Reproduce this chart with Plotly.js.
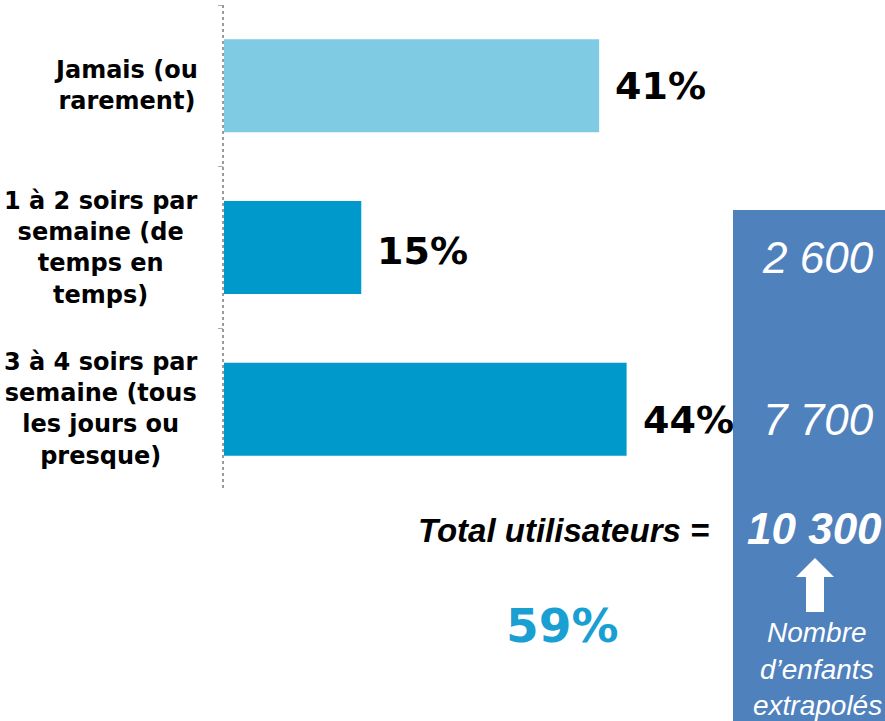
<!DOCTYPE html>
<html>
<head>
<meta charset="utf-8">
<script src="https://cdn.plot.ly/plotly-3.0.1.min.js"></script>
<style>html,body{margin:0;padding:0;background:#fff;}#chart{width:885px;height:721px;}</style>
</head>
<body>
<div id="chart"></div>
<script>
// ---- data ----
const categories = ["Jamais (ou rarement)", "1 à 2 soirs par semaine (de temps en temps)", "3 à 4 soirs par semaine (tous les jours ou presque)"];
const tickLabels = ["Jamais (ou<br>rarement)", "1 à 2 soirs par<br>semaine (de<br>temps en<br>temps)", "3 à 4 soirs par<br>semaine (tous<br>les jours ou<br>presque)"];
const values = [41, 15, 44];
const valueLabels = ["41%", "15%", "44%"];
const extrapolated = [null, 2600, 7700];
const totalUsers = 10300;
const totalPct = 59;
const totalLabel = "Total utilisateurs =";
const noteLines = ["Nombre", "d’enfants", "extrapolés"];

// ---- helpers (pixel -> paper) ----
const W = 885, H = 721;
const px = x => x / W;
const py = y => 1 - y / H;
const fmt = n => String(n).replace(/\B(?=(\d{3})+(?!\d))/g, " ");

const barColors = ["#7fcbe3", "#0099cc", "#0099cc"];

const trace = {
  type: "bar",
  orientation: "h",
  x: values,
  y: categories,
  marker: {color: barColors, line: {width: 0}},
  width: 0.575,
  hoverinfo: "skip"
};

const annotations = [];
const labelYShift = [0, -3, -11];
categories.forEach((c, i) => {
  annotations.push({
    xref: "paper", yref: "y", x: px(200), y: c,
    xanchor: "right", yanchor: "middle", align: "center",
    text: tickLabels[i], showarrow: false,
    font: {family: "DejaVu Sans", size: 24, color: "#000", weight: "bold"}
  });
  annotations.push({
    xref: "x", yref: "y", x: values[i], y: c,
    xanchor: "left", yanchor: "middle", xshift: 14, yshift: labelYShift[i],
    text: valueLabels[i], showarrow: false,
    font: {family: "DejaVu Sans", size: 38, color: "#000", weight: "bold"}
  });
  if (extrapolated[i] !== null) {
    annotations.push({
      xref: "paper", yref: "y", x: px(818), y: c,
      xanchor: "center", yanchor: "middle", yshift: -10,
      text: fmt(extrapolated[i]), showarrow: false,
      font: {family: "Liberation Sans", size: 44, color: "#fff", style: "italic"}
    });
  }
});

annotations.push({
  xref: "paper", yref: "paper", x: px(711), y: py(530),
  xanchor: "right", yanchor: "middle", text: totalLabel, showarrow: false,
  font: {family: "Liberation Sans", size: 33, color: "#000", weight: "bold", style: "italic"}
});
annotations.push({
  xref: "paper", yref: "paper", x: px(745), y: py(528),
  xanchor: "left", yanchor: "middle", text: fmt(totalUsers), showarrow: false,
  font: {family: "Liberation Sans", size: 44, color: "#fff", weight: "bold", style: "italic"}
});
annotations.push({
  xref: "paper", yref: "paper", x: px(562), y: py(625),
  xanchor: "center", yanchor: "middle", text: totalPct + "%", showarrow: false,
  font: {family: "DejaVu Sans", size: 47, color: "#1a9fd3", weight: "bold"}
});
const noteY = [632, 669, 705];
noteLines.forEach((t, i) => {
  annotations.push({
    xref: "paper", yref: "paper", x: px(817), y: py(noteY[i]),
    xanchor: "center", yanchor: "middle", text: t, showarrow: false,
    font: {family: "Liberation Sans", size: 28, color: "#fff", style: "italic"}
  });
});

const arrowPts = [[815,558],[834,577],[824,577],[824,612],[806,612],[806,577],[796,577]];
const arrowPath = "M" + arrowPts.map(p => px(p[0]) + "," + py(p[1])).join(" L") + " Z";

const shapes = [
  {type: "rect", xref: "paper", yref: "paper", x0: px(733), x1: 1.01, y0: py(210), y1: -0.01,
   fillcolor: "#4f81bd", line: {width: 0}, layer: "below"},
  {type: "line", xref: "paper", yref: "paper", x0: px(223), x1: px(223), y0: py(5), y1: py(491),
   line: {color: "#9a9a9a", width: 2, dash: "dot"}},
  {type: "path", xref: "paper", yref: "paper", path: arrowPath, fillcolor: "#fff", line: {width: 0}}
];

const layout = {
  width: W, height: H,
  margin: {l: 0, r: 0, t: 0, b: 0, pad: 0},
  paper_bgcolor: "#fff", plot_bgcolor: "rgba(0,0,0,0)",
  showlegend: false,
  xaxis: {range: [0, 50], domain: [px(224), px(224 + 457.5)], visible: false, fixedrange: true},
  yaxis: {type: "category", categoryorder: "array", categoryarray: categories,
          autorange: "reversed", domain: [py(490), py(5)],
          showticklabels: false, ticks: "outside", tickson: "boundaries", ticklen: 5,
          tickcolor: "#aaa", tickwidth: 1, showline: false, showgrid: false, zeroline: false,
          fixedrange: true},
  annotations: annotations,
  shapes: shapes
};

Plotly.newPlot("chart", [trace], layout, {displayModeBar: false, staticPlot: true});
</script>
</body>
</html>
